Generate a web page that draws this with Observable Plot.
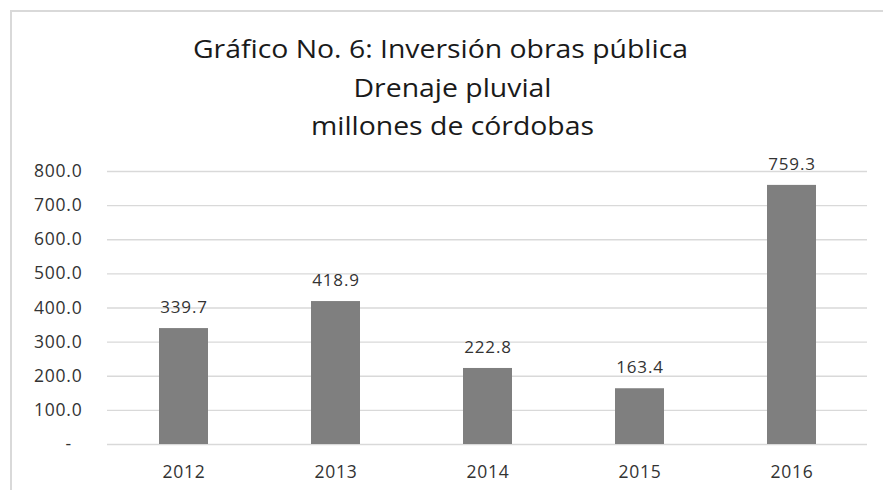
<!DOCTYPE html>
<html>
<head>
<meta charset="utf-8">
<script src="https://cdn.jsdelivr.net/npm/d3@7"></script>
<script src="https://cdn.jsdelivr.net/npm/@observablehq/plot@0.6"></script>
<style>
  html, body { margin: 0; padding: 0; background: #fff; }
  #wrap { position: relative; width: 883px; height: 490px; overflow: hidden; font-family: "Open Sans", sans-serif; }
  #frame { position: absolute; left: 10px; top: 10px; width: 900px; height: 520px; border-left: 2px solid #d9d9d9; border-top: 2px solid #d9d9d9; box-sizing: border-box; }
  #title { position: absolute; left: 0; top: 0; width: 883px; height: 150px; text-align: center; color: #1a1a1a; font-size: 25px; }
  #title div { position: absolute; width: 883px; left: 0; line-height: 30px; transform: scaleX(1.135); transform-origin: 50% 50%; }
  #chart { position: absolute; left: 0; top: 150px; }
</style>
</head>
<body>
<div id="wrap">
  <div id="frame"></div>
  <div id="title">
    <div style="top:33px; left:-1px;">Gráfico No. 6: Inversión obras pública</div>
    <div style="top:72px; left:11px;">Drenaje pluvial</div>
    <div style="top:110px; left:11px;">millones de córdobas</div>
  </div>
  <div id="chart"></div>
</div>
<script>
const years = ["2012", "2013", "2014", "2015", "2016"];
const values = [339.7, 418.9, 222.8, 163.4, 759.3];
const yTicks = [0, 100, 200, 300, 400, 500, 600, 700, 800];

const data = years.map((y, i) => ({year: y, value: values[i]}));
const fmt = d3.format(".1f");

const plot = Plot.plot({
  width: 883,
  height: 340,
  marginTop: 21,
  marginBottom: 46,
  marginLeft: 107,
  marginRight: 16,
  style: {fontFamily: "Open Sans, sans-serif", fontSize: "17px", color: "#333333", background: "transparent", letterSpacing: "0.8px"},
  x: {domain: years, paddingInner: 0.68, paddingOuter: 0.34, label: null},
  y: {domain: [0, 800], label: null},
  marks: [
    Plot.gridY(yTicks, {stroke: "#d9d9d9", strokeOpacity: 1, strokeWidth: 1.3}),
    Plot.barY(data, {x: "year", y: "value", fill: "#7f7f7f"}),
    Plot.text(data, {x: "year", y: "value", text: d => fmt(d.value), dy: -21, fill: "#333333", fontSize: 17}),
    Plot.axisY(yTicks, {tickSize: 0, tickPadding: 25, tickFormat: d => d === 0 ? "-\u00a0\u00a0" : fmt(d), fontSize: 17.5, fill: "#333333", label: null}),
    Plot.axisX({tickSize: 0, tickPadding: 21, fontSize: 17.5, fill: "#333333", label: null})
  ]
});
document.getElementById("chart").appendChild(plot);
</script>
</body>
</html>
